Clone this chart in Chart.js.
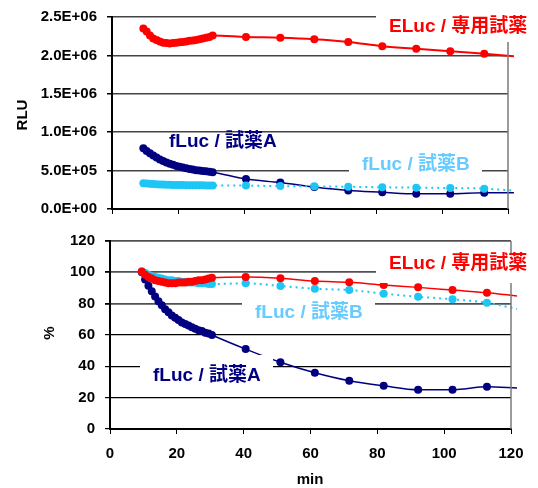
<!DOCTYPE html>
<html>
<head>
<meta charset="utf-8">
<script src="https://cdn.jsdelivr.net/npm/chart.js@4.4.1/dist/chart.umd.min.js"></script>
<style>
body{margin:0;background:#fff;}
canvas{position:absolute;left:0;}
#rluChart{top:0;}
#pctChart{top:230px;}
</style>
</head>
<body>
<canvas id="rluChart" width="538" height="230"></canvas>
<canvas id="pctChart" width="538" height="258"></canvas>
<script>

// ===============================
// DATA
// ===============================

const minutes = [9.5,10.5,11.5,12.5,13.5,14.5,15.5,16.5,17.5,18.5,19.5,20.5,21.5,22.5,23.5,24.5,25.5,26.5,27.5,28.5,29.5,30.5,40.6,51.0,61.3,71.6,81.9,92.2,102.5,112.8]
const trendEndMinute = 121.8

// RLU (upper chart)
const elucRlu  = [2.35e6,2.31e6,2.26e6,2.22e6,2.20e6,2.18e6,2.165e6,2.16e6,2.155e6,2.16e6,2.165e6,2.17e6,2.175e6,2.18e6,2.19e6,2.195e6,2.20e6,2.21e6,2.22e6,2.23e6,2.24e6,2.26e6,2.24e6,2.23e6,2.21e6,2.175e6,2.12e6,2.085e6,2.055e6,2.02e6]
const fLucARlu = [7.9e5,7.55e5,7.25e5,6.95e5,6.7e5,6.45e5,6.25e5,6.05e5,5.9e5,5.75e5,5.6e5,5.5e5,5.4e5,5.3e5,5.2e5,5.15e5,5.05e5,5.0e5,4.95e5,4.9e5,4.85e5,4.8e5,3.9e5,3.45e5,2.85e5,2.4e5,2.18e5,1.97e5,1.97e5,2.1e5]
const fLucBRlu = [3.35e5,3.33e5,3.3e5,3.25e5,3.22e5,3.2e5,3.18e5,3.16e5,3.15e5,3.14e5,3.13e5,3.12e5,3.11e5,3.1e5,3.1e5,3.09e5,3.09e5,3.08e5,3.08e5,3.07e5,3.07e5,3.07e5,3.05e5,2.98e5,2.95e5,2.9e5,2.83e5,2.78e5,2.73e5,2.65e5]
const rluTrendEnd = {eluc:1.99e6, fLucA:2.1e5, fLucB:2.4e5}

// % of start (lower chart)
const elucPct  = [100.5,98.5,97,96,95,94.5,94,93.5,93,93,93,93.5,93.5,93.5,94,94,94.5,95,95,95.5,96,96.5,97,96.2,94.4,93.6,91.9,90.4,88.7,87]
const fLucAPct = [100,95.5,91.5,88,84.5,81.5,79,76.5,74.5,72.5,71,69.5,68,67,66,65,64,63,62.5,61.5,61,60,51,42.6,35.9,30.8,27.6,25.1,25.1,27]
const fLucBPct = [100.5,99.5,98.5,97.5,97,96.5,96,95.5,95,95,94.5,94.5,94,94,93.5,93.5,93.5,93,93,93,92.5,92.5,93,91.3,89.5,88.7,86.4,84.4,82.8,80.6]
const pctTrendEnd = {eluc:84.9, fLucA:26.2, fLucB:76.6}

const rluTicks = [0,5e5,1e6,1.5e6,2e6,2.5e6]
const pctTicks = [0,20,40,60,80,100,120]
const minuteTicks = [0,20,40,60,80,100,120]

const seriesNames = ["ELuc / 専用試薬","fLuc / 試薬A","fLuc / 試薬B"]

const FONT = '"Liberation Sans", Arial, "Noto Sans CJK JP", sans-serif'
const RED = "#ff0000"
const NAVY = "#000080"
const CYAN = "#1ec6f6"

// ===============================
// HELPERS
// ===============================

function toPoints(values, endValue){
const pts = minutes.map((m,i)=>({x:m, y:values[i]}))
pts.push({x:trendEndMinute, y:endValue})
return pts
}

function sci(v){
const parts = v.toExponential(1).split("e")
const e = parseInt(parts[1],10)
return parts[0] + "E" + (e<0?"-":"+") + String(Math.abs(e)).padStart(2,"0")
}

function makeDataset(label, values, endValue, color, width, dash){
return {
label:label,
data:toPoints(values,endValue),
borderColor:color,
backgroundColor:color,
borderWidth:width,
borderDash:dash || [],
pointRadius:(ctx)=> ctx.dataIndex === minutes.length ? 0 : 4,
pointBorderWidth:0,
pointBackgroundColor:color,
cubicInterpolationMode:"monotone",
clip:{left:5,top:5,right:9,bottom:5}
}
}

// labels with white boxes, axis titles, right border
function notesPlugin(notes, titles){
return {
id:"notes",
afterDatasetsDraw(chart){
const c = chart.ctx
const a = chart.chartArea
c.save()

c.strokeStyle = "#7a7a7a"
c.lineWidth = 1.5
c.beginPath()
c.moveTo(a.right, a.top)
c.lineTo(a.right, a.bottom)
c.stroke()

notes.forEach(n=>{
if(n.box){
c.fillStyle = "#fff"
c.fillRect(n.box[0], n.box[1], n.box[2]-n.box[0], n.box[3]-n.box[1])
}
c.fillStyle = n.color
c.font = "bold 19px " + FONT
c.textAlign = "left"
c.textBaseline = "middle"
c.fillText(n.text, n.x, n.y)
})

titles.forEach(t=>{
c.save()
c.translate(t.x, t.y)
c.rotate(t.rot || 0)
c.fillStyle = "#000"
c.font = "bold 15px " + FONT
c.textAlign = "center"
c.textBaseline = "middle"
c.fillText(t.text, 0, 0)
c.restore()
})

c.restore()
}
}
}

function baseOptions(yMin, yMax, yStep, yFormat, yWidth, xHeight, padding, showXLabels, gridStyle){
return {
responsive:false,
animation:false,
devicePixelRatio:1,
events:[],
layout:{padding:padding},
plugins:{legend:{display:false}, tooltip:{enabled:false}},
scales:{
x:{
type:"linear",
min:0, max:120,
afterBuildTicks:(s)=>{ s.ticks = minuteTicks.map(v=>({value:v})) },
afterFit:(s)=>{ s.height = xHeight; s.paddingLeft = 0; s.paddingRight = 0 },
grid:{drawOnChartArea:false, drawTicks:true, tickLength:5, tickColor:"#000"},
border:{color:"#000", width:2},
ticks:{
display:showXLabels,
padding:11,
color:"#000",
font:{family:FONT, size:15, weight:"bold"}
}
},
y:{
min:yMin, max:yMax,
afterBuildTicks:(s)=>{ s.ticks = yStep.map(v=>({value:v})) },
afterFit:(s)=>{ s.width = yWidth; s.paddingTop = 0; s.paddingBottom = 0 },
grid:{
color:gridStyle.color,
lineWidth:gridStyle.width,
tickLength:5,
tickColor:"#000"
},
border:{color:"#000", width:2},
ticks:{
padding:10,
color:"#000",
font:{family:FONT, size:15, weight:"bold"},
callback:yFormat
}
}
}
}
}

// ===============================
// RLU CHART
// ===============================

new Chart(document.getElementById("rluChart"),{
type:"line",
data:{
datasets:[
makeDataset(seriesNames[0], elucRlu, rluTrendEnd.eluc, RED, 2),
makeDataset(seriesNames[2], fLucBRlu, rluTrendEnd.fLucB, CYAN, 2, [2,4]),
makeDataset(seriesNames[1], fLucARlu, rluTrendEnd.fLucA, NAVY, 1.5)
]
},
options:baseOptions(0, 2.5e6, rluTicks, (v)=>sci(v), 112, 21,
{left:0, right:30, top:17, bottom:0}, false,
{color:"#444", width:1.5}),
plugins:[notesPlugin([
{text:seriesNames[0], color:RED, x:389, y:27, box:[376,3,538,42]},
{text:seriesNames[1], color:NAVY, x:169, y:142},
{text:seriesNames[2], color:"#66ccff", x:362, y:165, box:[349,152,482,182]}
],[
{text:"RLU", x:23, y:115, rot:-Math.PI/2}
])]
})

// ===============================
// PERCENT CHART
// ===============================

new Chart(document.getElementById("pctChart"),{
type:"line",
data:{
datasets:[
makeDataset(seriesNames[0], elucPct, pctTrendEnd.eluc, RED, 1.5),
makeDataset(seriesNames[2], fLucBPct, pctTrendEnd.fLucB, CYAN, 2, [2,4]),
makeDataset(seriesNames[1], fLucAPct, pctTrendEnd.fLucA, NAVY, 1.5)
]
},
options:baseOptions(0, 120, pctTicks, (v)=>v, 110, 59,
{left:0, right:27, top:11, bottom:0}, true,
{color:(ctx)=> ctx.tick && ctx.tick.value >= 80 ? "#505050" : "#000",
 width:(ctx)=> ctx.tick && ctx.tick.value >= 80 ? 1.8 : 1.2}),
plugins:[notesPlugin([
{text:seriesNames[0], color:RED, x:389, y:34, box:[376,25,538,53]},
{text:seriesNames[2], color:"#66ccff", x:255, y:83, box:[242,64,375,102]},
{text:seriesNames[1], color:NAVY, x:153, y:146, box:[140,125,273,164]}
],[
{text:"%", x:50, y:103, rot:-Math.PI/2},
{text:"min", x:310, y:250}
])]
})

</script>
</body>
</html>
